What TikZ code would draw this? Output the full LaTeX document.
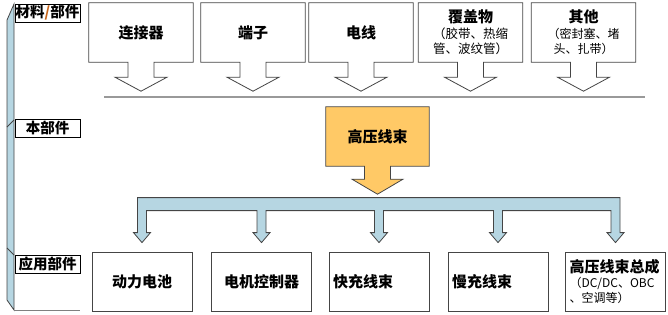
\documentclass[tikz,border=0pt]{standalone}
\usepackage{fontspec}
\setmainfont{Noto Sans CJK SC}
\usetikzlibrary{calc,backgrounds}

\definecolor{boxline}{HTML}{454545}
\definecolor{barblue}{HTML}{B6D6E2}
\definecolor{hvorange}{HTML}{FFC966}
\definecolor{slashorange}{HTML}{C86418}

\tikzset{
  partbox/.style={minimum height=59pt, text width=104pt, inner sep=0pt, align=center,
    font=\bfseries\fontsize{15}{18}\selectfont},
  usebox/.style={draw=boxline, line width=0.8pt, fill=white, minimum height=59pt,
    text width=100pt, inner sep=0pt, align=center, font=\bfseries\fontsize{15}{18}\selectfont},
  levelbox/.style={draw=black, line width=0.8pt, fill=white, minimum width=65pt,
    minimum height=18pt, inner sep=0pt, font=\bfseries\fontsize{14.5}{16}\selectfont},
  callout/.style={draw=boxline, line width=0.8pt, fill=white},
  branch/.style={draw=boxline, line width=0.8pt, fill=barblue},
}

\newcommand\subline{\mdseries\fontsize{12.5}{15}\selectfont}
\newcommand\dropto[1]{-- ($(#1.north)+(4.5,-41)$) -- ($(#1.north)+(4.5,-19)$)
  -- ($(#1.north)+(8.5,-19)$) -- ($(#1.north)+(0,-9)$) -- ($(#1.north)+(-8.5,-19)$)
  -- ($(#1.north)+(-4.5,-19)$) -- ($(#1.north)+(-4.5,-41)$)}

\begin{document}
\begin{tikzpicture}[x=1pt,y=-1pt]
\useasboundingbox (0,0) rectangle (668,314);

\begin{scope}[line width=0.8pt]
\filldraw[fill=barblue, draw=boxline] (7,20) -- (14,4) -- (14,310) -- (7,300) -- cycle;
\draw[boxline] (14,120) -- (7,127);
\draw[boxline] (7,248) -- (14,255);
\draw[gray] (14,310) -- (80,310);
\end{scope}

\node[levelbox] (mat) at (47.5,13) {材料{\color{slashorange}/}部件};
\node[levelbox] (self) at (47.5,128) {本部件};
\node[levelbox] (app) at (47.5,264) {应用部件};

\node[partbox] (top1) at (141,32.5) {连接器};
\node[partbox] (top2) at (253,32.5) {端子};
\node[partbox] (top3) at (361,32.5) {电线};
\node[partbox] (top4) at (470.5,32.5) {覆盖物\par\vspace{1pt}{\subline （胶带、热缩\\管、波纹管）\par}};
\node[partbox] (top5) at (583.5,32.5) {其他\par\vspace{1pt}{\subline\fontsize{12}{15}\selectfont （密封塞、堵\\头、扎带）\par}};

\draw[gray!80, line width=1.2pt] (104,97) -- (645,97);

\node[partbox, text width=103pt] (hv) at (377.5,136.5) {高压线束};

\node[usebox] (b1) at (142,281.5) {动力电池};
\node[usebox] (b2) at (261.5,281.5) {电机控制器};
\node[usebox, text width=92pt, inner xsep=4pt, align=left] (b3) at (379,281.5) {快充线束};
\node[usebox, text width=92pt, inner xsep=4pt, align=left] (b4) at (498,281.5) {慢充线束};
\node[usebox, text width=92pt, inner xsep=4pt, align=left] (b5) at (615.5,281.5)
  {高压线束总成\par{\subline\fontsize{12}{15}\selectfont （DC/DC、OBC\\、空调等）\par}};

\begin{scope}[on background layer]
\foreach \n in {top1,top2,top3,top4,top5}
  \draw[callout] (\n.north west) -- (\n.north east) -- (\n.south east)
    -- ($(\n.south)+(13,0)$) -- ($(\n.south)+(13,15)$) -- ($(\n.south)+(26,15)$)
    -- ($(\n.south)+(0,29)$) -- ($(\n.south)+(-26,15)$) -- ($(\n.south)+(-13,15)$)
    -- ($(\n.south)+(-13,0)$) -- (\n.south west) -- cycle;

\filldraw[callout, fill=hvorange] (hv.north west) -- (hv.north east) -- (hv.south east)
  -- ($(hv.south)+(13,0)$) -- ($(hv.south)+(13,13)$) -- ($(hv.south)+(25.5,13)$)
  -- ($(hv.south)+(0,28)$) -- ($(hv.south)+(-25.5,13)$) -- ($(hv.south)+(-13,13)$)
  -- ($(hv.south)+(-13,0)$) -- (hv.south west) -- cycle;

\filldraw[branch] ($(b1.north)+(-4.5,-54)$) -- ($(b5.north)+(4.5,-54)$)
  \dropto{b5} \dropto{b4} \dropto{b3} \dropto{b2} \dropto{b1} -- cycle;
\end{scope}

\end{tikzpicture}
\end{document}
